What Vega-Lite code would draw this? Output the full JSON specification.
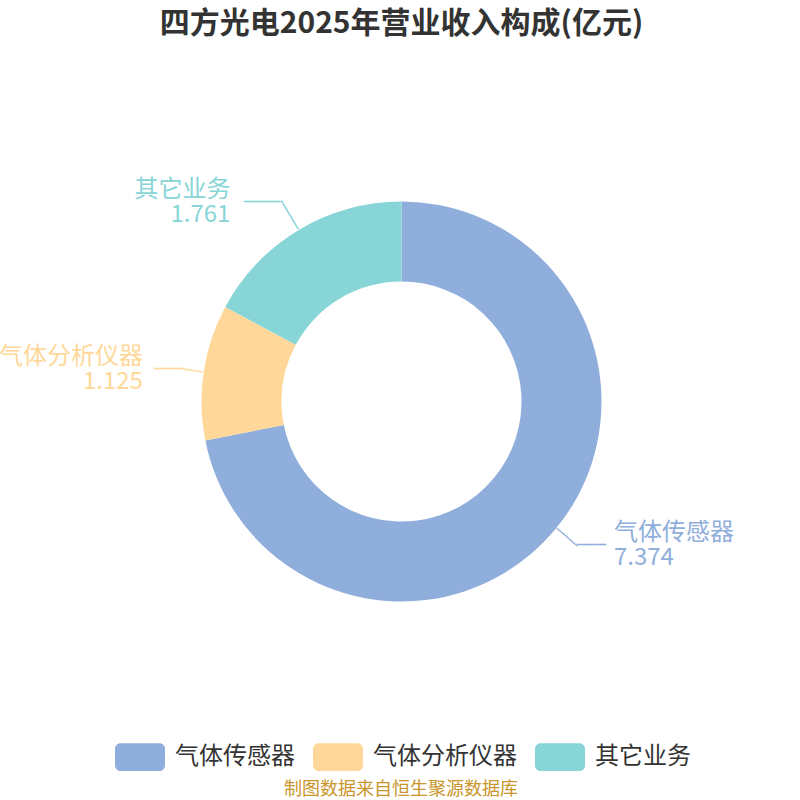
{
  "$schema": "https://vega.github.io/schema/vega-lite/v6.json",
  "width": 800,
  "height": 800,
  "autosize": {"type": "fit", "contains": "padding"},
  "padding": {"top": 9, "bottom": 1, "left": 0, "right": 0},
  "title": {
    "text": "四方光电2025年营业收入构成(亿元)",
    "fontSize": 30,
    "fontWeight": "bold",
    "color": "#333333",
    "font": "Noto Sans CJK SC",
    "anchor": "middle",
    "offset": 39
  },
  "config": {
    "legend": {"layout": {"bottom": {"anchor": "middle"}}}
  },
  "data": {
    "values": [
      {"name": "气体传感器", "value": 7.374, "rank": 1},
      {"name": "气体分析仪器", "value": 1.125, "rank": 2},
      {"name": "其它业务", "value": 1.761, "rank": 3}
    ]
  },
  "encoding": {
    "theta": {"field": "value", "type": "quantitative", "stack": true},
    "order": {"field": "rank", "type": "quantitative"}
  },
  "layer": [
    {
      "mark": {"type": "arc", "radius": 200, "radius2": 120},
      "encoding": {
        "color": {
          "field": "name",
          "type": "nominal",
          "scale": {
            "domain": ["气体传感器", "气体分析仪器", "其它业务"],
            "range": ["#8FAEDB", "#FFD899", "#87D5D7"]
          },
          "legend": {
            "orient": "bottom",
            "direction": "horizontal",
            "title": "制图数据来自恒生聚源数据库",
            "titleOrient": "bottom",
            "titleAnchor": "middle",
            "titleFontSize": 18,
            "titleFontWeight": "normal",
            "titleColor": "#C8962A",
            "titleFont": "Noto Sans CJK SC",
            "titleLimit": 500,
            "titlePadding": 10,
            "labelFontSize": 24,
            "labelColor": "#333333",
            "labelFont": "Noto Sans CJK SC",
            "labelOffset": 7,
            "labelLimit": 300,
            "symbolType": "M-0.7,-0.5H0.7A0.2,0.2,0,0,1,0.9,-0.3V0.3A0.2,0.2,0,0,1,0.7,0.5H-0.7A0.2,0.2,0,0,1,-0.9,0.3V-0.3A0.2,0.2,0,0,1,-0.7,-0.5Z",
            "symbolSize": 3086,
            "symbolStrokeWidth": 0,
            "symbolOpacity": 1,
            "columnPadding": 15,
            "offset": 4
          }
        }
      }
    },
    {
      "mark": {"type": "arc", "radius": 201, "radius2": 221, "padAngle": 3.14, "filled": false, "strokeWidth": 1.5},
      "encoding": {
        "color": {"field": "name", "type": "nominal", "legend": null},
        "strokeOpacity": {"condition": {"test": "datum.name === '气体分析仪器'", "value": 1}, "value": 0}
      }
    },
    {
      "mark": {"type": "arc", "radius": 201, "radius2": 232, "padAngle": 3.14, "filled": false, "strokeWidth": 1.5},
      "encoding": {
        "color": {"field": "name", "type": "nominal", "legend": null},
        "strokeOpacity": {"condition": {"test": "datum.name === '其它业务'", "value": 1}, "value": 0}
      }
    },
    {
      "mark": {"type": "text", "radius": 214, "align": "center", "baseline": "middle", "angle": 41, "fontSize": 15, "font": "DejaVu Sans Mono"},
      "encoding": {
        "text": {"condition": {"test": "datum.name === '气体传感器'", "value": "───"}, "value": ""},
        "color": {"field": "name", "type": "nominal", "legend": null}
      }
    },
    {
      "mark": {"type": "text", "radius": 227, "align": "left", "baseline": "middle", "fontSize": 16, "font": "DejaVu Sans Mono"},
      "encoding": {
        "text": {"condition": {"test": "datum.name === '气体传感器'", "value": "───"}, "value": ""},
        "color": {"field": "name", "type": "nominal", "legend": null}
      }
    },
    {
      "mark": {"type": "text", "radius": 227, "align": "left", "baseline": "middle", "dx": 37, "dy": -12, "fontSize": 24, "font": "Noto Sans CJK SC"},
      "encoding": {
        "text": {"condition": {"test": "datum.name === '气体传感器'", "field": "name"}, "value": ""},
        "color": {"field": "name", "type": "nominal", "legend": null}
      }
    },
    {
      "mark": {"type": "text", "radius": 227, "align": "left", "baseline": "middle", "dx": 37, "dy": 13, "fontSize": 24, "font": "Noto Sans CJK SC"},
      "encoding": {
        "text": {"condition": {"test": "datum.name === '气体传感器'", "field": "value", "format": ".3f"}, "value": ""},
        "color": {"field": "name", "type": "nominal", "legend": null}
      }
    },
    {
      "mark": {"type": "text", "radius": 221, "align": "right", "baseline": "middle", "fontSize": 16, "font": "DejaVu Sans Mono"},
      "encoding": {
        "text": {"condition": {"test": "datum.name === '气体分析仪器'", "value": "───"}, "value": ""},
        "color": {"field": "name", "type": "nominal", "legend": null}
      }
    },
    {
      "mark": {"type": "text", "radius": 221, "align": "right", "baseline": "middle", "dx": -40, "dy": -12, "fontSize": 24, "font": "Noto Sans CJK SC"},
      "encoding": {
        "text": {"condition": {"test": "datum.name === '气体分析仪器'", "field": "name"}, "value": ""},
        "color": {"field": "name", "type": "nominal", "legend": null}
      }
    },
    {
      "mark": {"type": "text", "radius": 221, "align": "right", "baseline": "middle", "dx": -40, "dy": 13, "fontSize": 24, "font": "Noto Sans CJK SC"},
      "encoding": {
        "text": {"condition": {"test": "datum.name === '气体分析仪器'", "field": "value", "format": ".3f"}, "value": ""},
        "color": {"field": "name", "type": "nominal", "legend": null}
      }
    },
    {
      "mark": {"type": "text", "radius": 232, "align": "right", "baseline": "middle", "fontSize": 16, "font": "DejaVu Sans Mono"},
      "encoding": {
        "text": {"condition": {"test": "datum.name === '其它业务'", "value": "────"}, "value": ""},
        "color": {"field": "name", "type": "nominal", "legend": null}
      }
    },
    {
      "mark": {"type": "text", "radius": 232, "align": "right", "baseline": "middle", "dx": -52, "dy": -12, "fontSize": 24, "font": "Noto Sans CJK SC"},
      "encoding": {
        "text": {"condition": {"test": "datum.name === '其它业务'", "field": "name"}, "value": ""},
        "color": {"field": "name", "type": "nominal", "legend": null}
      }
    },
    {
      "mark": {"type": "text", "radius": 232, "align": "right", "baseline": "middle", "dx": -52, "dy": 13, "fontSize": 24, "font": "Noto Sans CJK SC"},
      "encoding": {
        "text": {"condition": {"test": "datum.name === '其它业务'", "field": "value", "format": ".3f"}, "value": ""},
        "color": {"field": "name", "type": "nominal", "legend": null}
      }
    }
  ]
}
